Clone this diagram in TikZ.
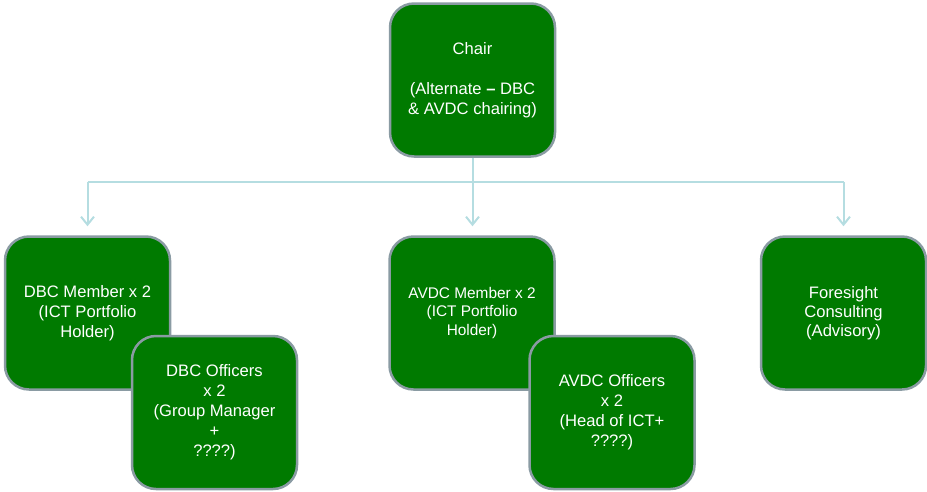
\documentclass[tikz,border=0pt]{standalone}
\usepackage{fontspec}
\setmainfont{Liberation Sans}
\usetikzlibrary{arrows.meta}
\definecolor{boxgreen}{HTML}{007A00}
\definecolor{boxedge}{HTML}{8A9BA3}
\definecolor{connblue}{HTML}{B5DDE1}
\begin{document}
\begin{tikzpicture}[x=1pt,y=-1pt,
  orgbox/.style={draw=boxedge, line width=2.5pt, fill=boxgreen, rounded corners=24pt,
    minimum width=165pt, minimum height=153pt, text=white, align=center,
    font=\fontsize{16.6}{20}\selectfont, inner sep=0pt},
  smallbox/.style={orgbox, font=\fontsize{15.4}{18.3}\selectfont},
  forebox/.style={orgbox, font=\fontsize{16.6}{19}\selectfont},
  conn/.style={draw=connblue, line width=2pt},
  arr/.style={conn, -{Straight Barb[length=8pt,width=13pt,line width=2pt]}, shorten >=9pt}]
\useasboundingbox (0,0) rectangle (927,491);
\coordinate (bus) at (0,182);
\node[orgbox] (chair) at (472.5,80) {Chair\\[20pt](Alternate {\bfseries –} DBC\\\& AVDC chairing)};
\node[orgbox] (dbcm) at (87.5,313) {DBC Member x 2\\(ICT Portfolio\\Holder)};
\node[smallbox] (avdcm) at (472,313) {AVDC Member x 2\\(ICT Portfolio\\Holder)};
\node[forebox] (fore) at (843.5,313) {Foresight\\Consulting\\(Advisory)};
\node[orgbox] (dbco) at (214.5,412.5) {DBC Officers\\x 2\\(Group Manager\\+\\????)};
\node[orgbox] (avdco) at (612,412.5) {AVDC Officers\\x 2\\(Head of ICT+\\????)};
\draw[conn] (chair.south) -- (chair.south |- bus);
\draw[conn] (dbcm.north |- bus) -- (fore.north |- bus);
\draw[arr] (dbcm.north |- bus) -- (dbcm.north);
\draw[arr] (chair.south |- bus) -- (chair.south |- avdcm.north);
\draw[arr] (fore.north |- bus) -- (fore.north);
\end{tikzpicture}
\end{document}
